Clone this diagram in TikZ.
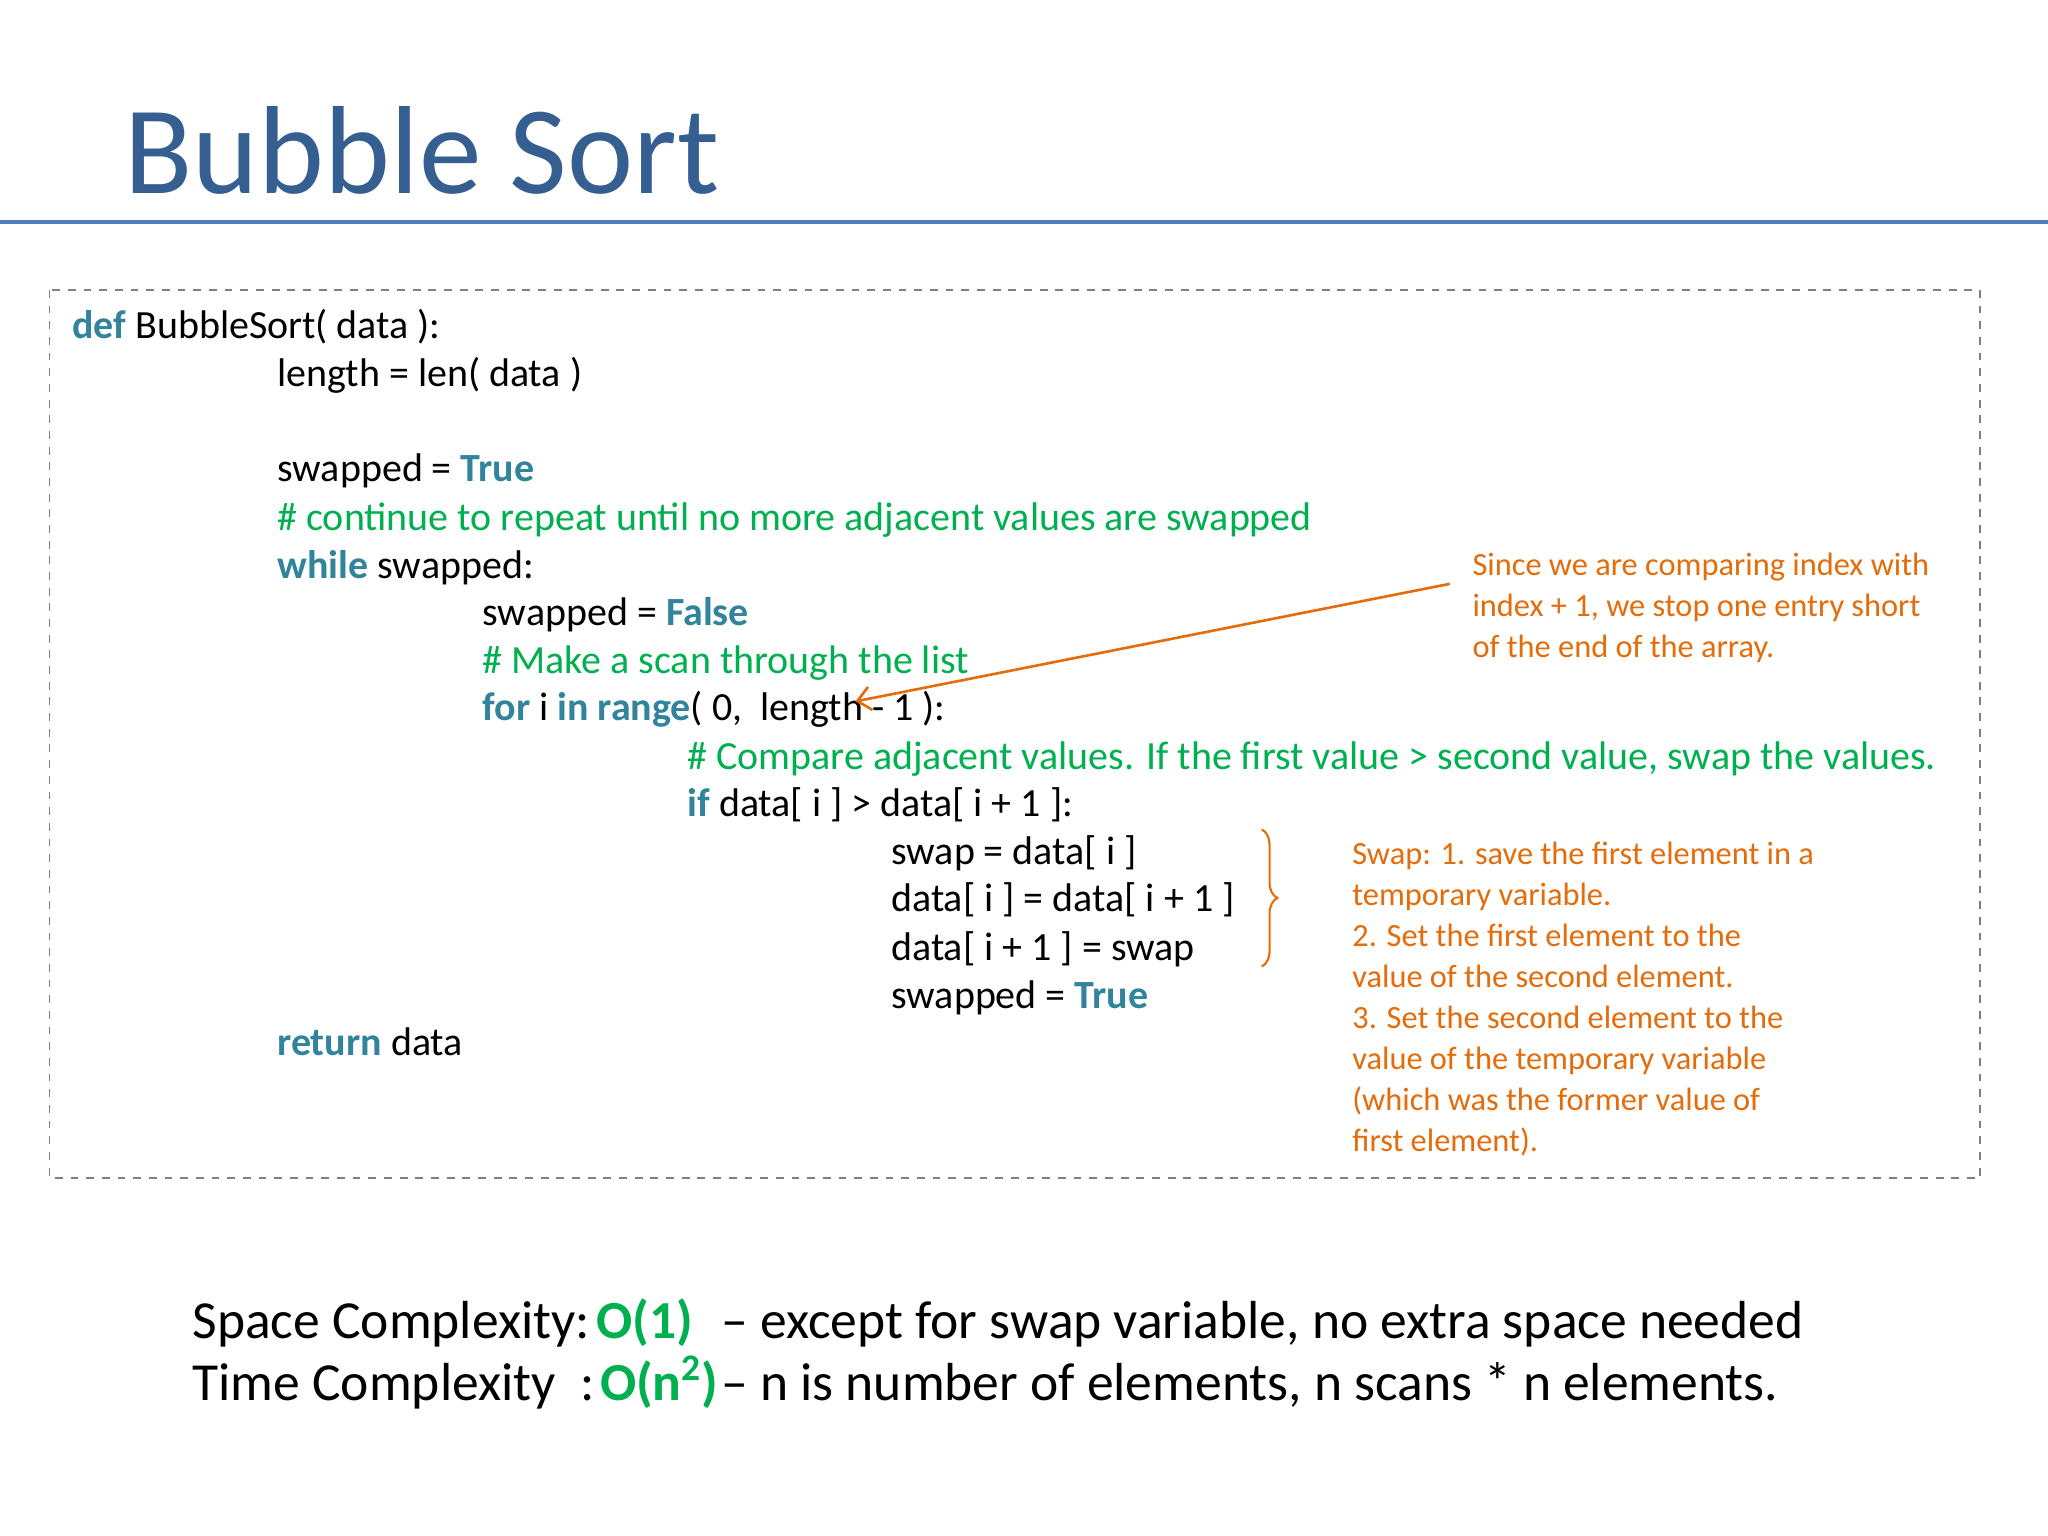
\documentclass[tikz,border=0pt]{standalone}
\usepackage{fontspec}
\setmainfont{Carlito}
\usetikzlibrary{decorations.pathreplacing,arrows.meta}
\definecolor{kw}{RGB}{49,132,155}
\definecolor{cm}{RGB}{0,176,80}
\definecolor{og}{RGB}{228,108,10}
\definecolor{tb}{RGB}{54,95,145}
\definecolor{rl}{RGB}{79,129,189}
\tikzset{code/.style={anchor=base west,inner sep=0pt,font=\fontsize{15.3}{18}\selectfont},
 note/.style={anchor=north west,inner sep=0pt,align=left,text=og,font=\fontsize{12.4}{15.7}\selectfont},
 big/.style={anchor=base west,inner sep=0pt,font=\fontsize{20.5}{25}\selectfont}}
\newcommand{\kwd}[1]{\textcolor{kw}{\textbf{#1}}}
\begin{document}
\begin{tikzpicture}[x=0.5pt,y=-0.5pt]
\useasboundingbox (0,0) rectangle (1568,1176);
\fill[white] (0,0) rectangle (1568,1176);
\node[anchor=base west,inner sep=0pt,text=tb,font=\fontsize{48}{56}\selectfont] (title) at (95,148) {Bubble Sort};
\draw[rl,line width=1.5pt] (0,170) -- (1568,170);
\draw[gray,dashed,line width=0.5pt] (38,222) rectangle (1516,902);
\node[code] (l1) at (55,259) {\kwd{def} BubbleSort( data ):};
\node[code] (l2) at (212,296) {length = len( data )};
\node[code] (l3) at (212,369) {swapped = \kwd{True}};
\node[code,text=cm] (l4) at (212,406) {\# continue to repeat until no more adjacent values are swapped};
\node[code] (l5) at (212,443) {\kwd{while} swapped:};
\node[code] (l6) at (369,479) {swapped = \kwd{False}};
\node[code,text=cm] (l7) at (369,516) {\# Make a scan through the list};
\node[code] (l8) at (369,552) {\kwd{for} i \kwd{in range}( 0,\ \ length - 1 ):};
\node[code,text=cm] (l9) at (526,589) {\# Compare adjacent values. If the first value > second value, swap the values.};
\node[code] (l10) at (526,625) {\kwd{if} data[ i ] > data[ i + 1 ]:};
\node[code] (l11) at (682,662) {swap = data[ i ]};
\node[code] (l12) at (682,698) {data[ i ] = data[ i + 1 ]};
\node[code] (l13) at (682,735) {data[ i + 1 ] = swap};
\node[code] (l14) at (682,772) {swapped = \kwd{True}};
\node[code] (l15) at (212,808) {\kwd{return} data};
\node[note] (n1) at (1127,423) {Since we are comparing index with\\index + 1, we stop one entry short\\of the end of the array.};
\coordinate (tip) at (655,537);
\coordinate (tail) at (1110,447);
\draw[og,line width=1pt,-{Straight Barb[length=5pt,width=9pt]}] (tail) -- (tip);
\node[note] (n2) at (1035,644) {Swap: 1. save the first element in a\\temporary variable.\\2. Set the first element to the\\value of the second element.\\3. Set the second element to the\\value of the temporary variable\\(which was the former value of\\first element).};
\coordinate (bt) at (966,635);
\coordinate (bb) at (966,740);
\draw[og,line width=0.8pt,decoration={brace,amplitude=6pt},decorate] (bt) -- (bb);
\node[big] (s1) at (147,1025) {Space Complexity:};
\node[big,text=cm] (s2) at (456,1025) {\textbf{O(1)}};
\node[big] (s3) at (552,1025) {– except for swap variable, no extra space needed};
\node[big] (t1) at (147,1072) {Time Complexity\ \ :};
\node[big,text=cm] (t2) at (459,1072) {\textbf{O(n\textsuperscript{2})}};
\node[big] (t3) at (552,1072) {– n is number of elements, n scans * n elements.};
\end{tikzpicture}
\end{document}
